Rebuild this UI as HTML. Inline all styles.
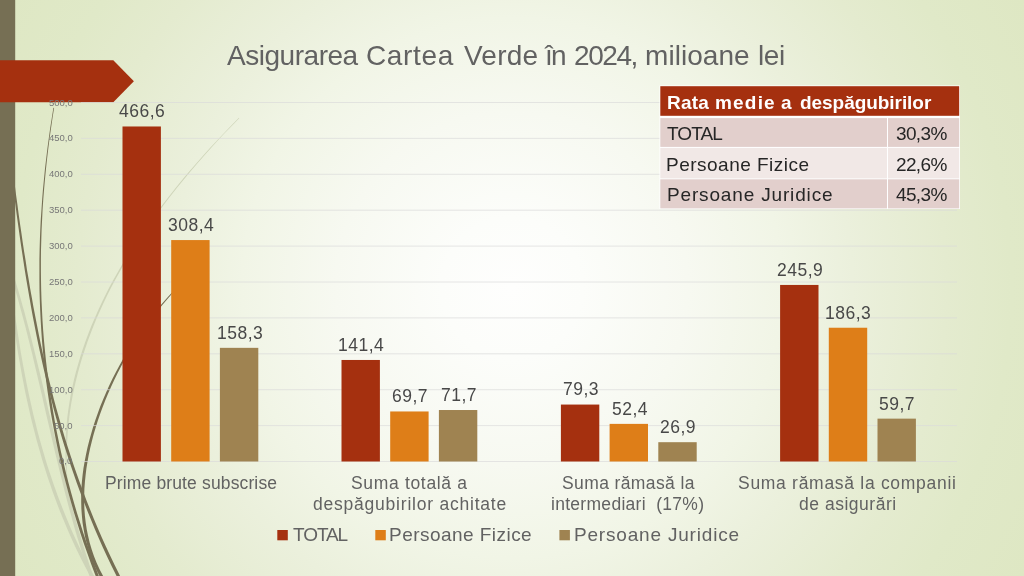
<!DOCTYPE html>
<html lang="ro">
<head>
<meta charset="utf-8">
<title>Asigurarea Cartea Verde în 2024</title>
<style>
  html, body { margin: 0; padding: 0; }
  body {
    width: 1024px; height: 576px; overflow: hidden; position: relative;
    font-family: "Liberation Sans", sans-serif;
    background: #dee7c3;
  }
  #bg {
    position: absolute; left: 0; top: 0; width: 1024px; height: 576px;
    background: radial-gradient(circle 587px at 512px 288px, #fefefd 0%, #fcfdfa 12%, #f7f9f1 30%, #f1f5e6 46%, #ebf0dc 58%, #e4ebcf 74%, #e0e9c8 85%, #dee7c3 100%);
  }
  #deco { position: absolute; left: 0; top: 0; width: 1024px; height: 576px; }
  .tx { position: absolute; white-space: nowrap; will-change: transform; }
</style>
</head>
<body>
<div id="bg"></div>
<svg id="deco" viewBox="0 0 1024 576">
  <g fill="#ced4b8">
  <path d="M7.8 265.4 L10.0 272.2 L12.0 279.0 L14.1 285.7 L16.0 292.5 L18.0 299.3 L19.8 306.1 L21.7 312.9 L23.5 319.7 L25.3 326.4 L27.0 333.2 L28.7 340.0 L30.4 346.8 L32.1 353.6 L33.7 360.4 L35.3 367.2 L36.9 373.9 L38.5 380.7 L40.1 387.5 L41.7 394.3 L43.2 401.1 L44.8 407.9 L46.3 414.7 L47.9 421.5 L49.5 428.3 L51.0 435.0 L52.6 441.8 L54.2 448.6 L55.8 455.4 L57.5 462.2 L59.1 469.0 L60.8 475.8 L62.5 482.6 L64.2 489.4 L65.9 496.2 L67.7 503.0 L69.5 509.8 L71.4 516.6 L73.3 523.4 L75.2 530.2 L77.2 537.0 L79.3 543.8 L81.3 550.6 L83.5 557.4 L85.7 564.2 L87.9 571.0 L90.2 577.8 L92.6 584.6 L95.8 583.4 L93.4 576.7 L91.1 569.9 L88.9 563.1 L86.7 556.3 L84.5 549.6 L82.5 542.8 L80.4 536.0 L78.4 529.2 L76.5 522.5 L74.6 515.7 L72.7 508.9 L70.9 502.1 L69.1 495.4 L67.4 488.6 L65.6 481.8 L63.9 475.0 L62.3 468.2 L60.6 461.4 L59.0 454.7 L57.4 447.9 L55.8 441.1 L54.2 434.3 L52.6 427.5 L51.0 420.7 L49.4 414.0 L47.8 407.2 L46.3 400.4 L44.7 393.6 L43.1 386.8 L41.5 380.0 L39.9 373.2 L38.2 366.5 L36.6 359.7 L34.9 352.9 L33.2 346.1 L31.5 339.3 L29.8 332.5 L28.0 325.7 L26.2 318.9 L24.4 312.1 L22.5 305.4 L20.6 298.6 L18.6 291.8 L16.6 285.0 L14.6 278.2 L12.5 271.4 L10.3 264.6Z"/>
  <path d="M9.1 290.2 L9.9 296.4 L10.7 302.7 L11.5 308.9 L12.4 315.2 L13.2 321.5 L14.1 327.7 L15.1 334.0 L16.0 340.3 L17.0 346.5 L18.0 352.8 L19.1 359.1 L20.2 365.3 L21.3 371.6 L22.5 377.9 L23.7 384.1 L24.9 390.4 L26.2 396.7 L27.6 402.9 L29.0 409.2 L30.4 415.5 L31.9 421.7 L33.5 428.0 L35.1 434.3 L36.7 440.5 L38.5 446.8 L40.3 453.1 L42.1 459.4 L44.0 465.6 L46.0 471.9 L48.0 478.2 L50.2 484.5 L52.3 490.7 L54.6 497.0 L56.9 503.3 L59.3 509.6 L61.8 515.8 L64.4 522.1 L67.1 528.4 L69.8 534.7 L72.6 540.9 L75.5 547.2 L78.5 553.5 L81.6 559.8 L84.8 566.0 L88.1 572.3 L91.4 578.6 L94.9 584.9 L98.0 583.1 L94.6 576.9 L91.2 570.7 L87.9 564.4 L84.8 558.2 L81.7 552.0 L78.7 545.7 L75.8 539.5 L72.9 533.3 L70.2 527.0 L67.6 520.8 L65.0 514.6 L62.5 508.3 L60.1 502.1 L57.7 495.8 L55.5 489.6 L53.3 483.4 L51.2 477.1 L49.1 470.9 L47.1 464.7 L45.2 458.4 L43.4 452.2 L41.6 445.9 L39.8 439.7 L38.1 433.5 L36.5 427.2 L35.0 421.0 L33.4 414.8 L32.0 408.5 L30.6 402.3 L29.2 396.0 L27.9 389.8 L26.6 383.5 L25.4 377.3 L24.2 371.1 L23.0 364.8 L21.9 358.6 L20.8 352.3 L19.8 346.1 L18.8 339.8 L17.8 333.6 L16.9 327.3 L15.9 321.1 L15.0 314.8 L14.2 308.6 L13.3 302.3 L12.5 296.1 L11.7 289.8Z"/>
  <path d="M238.9 117.8 L231.3 125.5 L223.9 133.2 L216.6 140.9 L209.5 148.6 L202.6 156.3 L195.8 163.9 L189.2 171.6 L182.7 179.3 L176.4 187.0 L170.3 194.7 L164.3 202.4 L158.5 210.1 L152.8 217.8 L147.3 225.5 L142.0 233.2 L136.9 240.9 L131.9 248.6 L127.1 256.3 L122.4 264.0 L118.0 271.7 L113.6 279.4 L109.5 287.1 L105.6 294.8 L101.8 302.5 L98.2 310.2 L94.8 317.9 L91.5 325.6 L88.5 333.3 L85.6 341.0 L82.9 348.7 L80.4 356.4 L78.1 364.2 L75.9 371.9 L74.0 379.6 L72.3 387.4 L70.7 395.1 L69.4 402.8 L68.2 410.5 L67.2 418.3 L66.5 426.0 L65.9 433.7 L65.5 441.5 L65.4 449.2 L65.5 456.9 L65.8 464.6 L66.3 472.3 L67.0 480.0 L67.4 480.0 L67.0 472.3 L66.7 464.6 L66.7 456.9 L66.9 449.2 L67.2 441.5 L67.7 433.8 L68.3 426.2 L69.1 418.5 L70.1 410.8 L71.3 403.1 L72.7 395.5 L74.3 387.8 L76.1 380.1 L78.0 372.4 L80.1 364.8 L82.4 357.1 L84.9 349.4 L87.5 341.7 L90.4 334.0 L93.4 326.3 L96.5 318.6 L99.9 310.9 L103.4 303.2 L107.1 295.5 L111.0 287.8 L115.1 280.1 L119.3 272.4 L123.7 264.7 L128.3 257.0 L133.1 249.3 L138.0 241.6 L143.1 233.9 L148.3 226.2 L153.8 218.5 L159.4 210.8 L165.1 203.0 L171.1 195.3 L177.2 187.6 L183.4 179.9 L189.8 172.2 L196.4 164.5 L203.2 156.8 L210.1 149.0 L217.1 141.3 L224.3 133.6 L231.7 125.9 L239.2 118.2Z"/>
  </g><g fill="#766f54">
  <path d="M53.4 107.8 L51.8 118.0 L50.2 128.1 L48.8 138.2 L47.4 148.4 L46.2 158.5 L45.0 168.6 L44.0 178.8 L43.0 188.9 L42.2 199.0 L41.5 209.2 L40.8 219.3 L40.3 229.4 L39.9 239.6 L39.6 249.7 L39.4 259.8 L39.4 270.0 L39.4 280.1 L39.5 290.3 L39.8 300.4 L40.2 310.5 L40.7 320.7 L41.3 330.8 L42.0 341.0 L42.9 351.1 L43.9 361.3 L45.0 371.4 L46.2 381.6 L47.6 391.7 L49.1 401.8 L50.7 412.0 L52.5 422.1 L54.4 432.3 L56.4 442.4 L58.5 452.6 L60.8 462.7 L63.2 472.9 L65.8 483.0 L68.5 493.2 L71.3 503.3 L74.3 513.5 L77.4 523.6 L80.6 533.8 L84.0 543.9 L87.6 554.1 L91.2 564.3 L95.1 574.4 L99.0 584.5 L101.8 583.5 L97.8 573.3 L94.0 563.2 L90.3 553.1 L86.7 543.0 L83.3 532.9 L80.1 522.8 L76.9 512.7 L73.9 502.6 L71.1 492.5 L68.4 482.4 L65.8 472.3 L63.4 462.1 L61.0 452.0 L58.9 441.9 L56.8 431.8 L54.9 421.7 L53.1 411.6 L51.5 401.5 L49.9 391.4 L48.5 381.3 L47.2 371.1 L46.0 361.0 L45.0 350.9 L44.0 340.8 L43.2 330.7 L42.5 320.6 L42.0 310.5 L41.5 300.3 L41.2 290.2 L41.0 280.1 L40.9 270.0 L40.9 259.9 L41.0 249.7 L41.3 239.6 L41.6 229.5 L42.1 219.4 L42.6 209.2 L43.3 199.1 L44.1 189.0 L45.0 178.9 L46.0 168.7 L47.1 158.6 L48.3 148.5 L49.6 138.3 L51.0 128.2 L52.5 118.1 L54.1 108.0Z"/>
  <path d="M8.4 150.1 L9.6 159.3 L10.7 168.6 L11.9 177.8 L13.1 187.1 L14.3 196.3 L15.5 205.5 L16.7 214.8 L18.0 224.0 L19.3 233.3 L20.6 242.5 L22.0 251.7 L23.4 261.0 L24.8 270.2 L26.3 279.5 L27.9 288.7 L29.5 297.9 L31.1 307.2 L32.8 316.4 L34.6 325.7 L36.4 334.9 L38.3 344.2 L40.3 353.4 L42.3 362.7 L44.4 371.9 L46.6 381.2 L48.9 390.4 L51.3 399.7 L53.7 408.9 L56.2 418.2 L58.9 427.4 L61.6 436.7 L64.4 445.9 L67.4 455.2 L70.4 464.4 L73.6 473.7 L76.8 482.9 L80.2 492.2 L83.7 501.4 L87.3 510.7 L91.1 519.9 L94.9 529.2 L98.9 538.4 L103.0 547.7 L107.3 557.0 L111.7 566.2 L116.3 575.5 L120.9 584.7 L123.8 583.3 L119.1 574.1 L114.5 564.8 L110.1 555.6 L105.9 546.4 L101.7 537.2 L97.7 528.0 L93.8 518.8 L90.1 509.6 L86.5 500.4 L83.0 491.1 L79.6 481.9 L76.3 472.7 L73.1 463.5 L70.1 454.3 L67.1 445.1 L64.3 435.9 L61.5 426.6 L58.9 417.4 L56.3 408.2 L53.8 399.0 L51.5 389.8 L49.2 380.5 L46.9 371.3 L44.8 362.1 L42.7 352.9 L40.7 343.7 L38.8 334.4 L37.0 325.2 L35.2 316.0 L33.4 306.8 L31.8 297.5 L30.1 288.3 L28.6 279.1 L27.0 269.9 L25.6 260.6 L24.1 251.4 L22.7 242.2 L21.4 233.0 L20.0 223.7 L18.7 214.5 L17.5 205.3 L16.2 196.0 L15.0 186.8 L13.8 177.6 L12.6 168.4 L11.4 159.1 L10.2 149.9Z"/>
  <path d="M201.3 263.8 L193.8 270.6 L186.7 277.4 L179.9 284.1 L173.4 290.9 L167.2 297.7 L161.3 304.5 L155.7 311.3 L150.4 318.1 L145.3 324.9 L140.4 331.7 L135.7 338.5 L131.3 345.3 L127.1 352.1 L123.1 358.9 L119.3 365.7 L115.7 372.5 L112.2 379.3 L109.0 386.1 L105.9 392.9 L103.0 399.7 L100.2 406.5 L97.7 413.4 L95.3 420.2 L93.1 427.0 L91.1 433.9 L89.2 440.7 L87.5 447.5 L86.0 454.4 L84.7 461.2 L83.5 468.0 L82.6 474.9 L81.9 481.7 L81.4 488.6 L81.2 495.5 L81.2 502.3 L81.4 509.2 L81.9 516.1 L82.6 522.9 L83.7 529.8 L85.0 536.7 L86.7 543.6 L88.7 550.4 L91.1 557.3 L93.8 564.2 L96.9 571.1 L100.5 578.0 L104.4 584.8 L107.2 583.2 L103.3 576.4 L99.8 569.7 L96.7 563.0 L94.0 556.2 L91.7 549.5 L89.7 542.7 L88.1 536.0 L86.7 529.3 L85.7 522.5 L84.9 515.8 L84.4 509.0 L84.2 502.3 L84.2 495.5 L84.4 488.8 L84.9 482.0 L85.6 475.2 L86.4 468.5 L87.5 461.7 L88.7 454.9 L90.2 448.1 L91.8 441.4 L93.6 434.6 L95.6 427.8 L97.7 421.0 L100.0 414.2 L102.5 407.4 L105.2 400.6 L108.0 393.8 L111.0 387.0 L114.1 380.2 L117.4 373.4 L121.0 366.6 L124.7 359.8 L128.6 352.9 L132.7 346.1 L137.0 339.3 L141.5 332.5 L146.3 325.6 L151.3 318.8 L156.6 312.0 L162.1 305.2 L167.9 298.4 L174.0 291.5 L180.5 284.7 L187.2 277.9 L194.3 271.1 L201.7 264.2Z"/>
  </g>
  <rect x="0" y="0" width="15.2" height="576" fill="#766f54"/>
  <path d="M0 60.2 H113.3 L133.9 81.25 L113.3 102.3 H0 Z" fill="#a5300f"/>
  <g stroke="#d9d9d9" stroke-width="0.9" stroke-opacity="0.75">
  <line x1="81" x2="957" y1="461.50" y2="461.50"/>
  <line x1="81" x2="957" y1="425.60" y2="425.60"/>
  <line x1="81" x2="957" y1="389.70" y2="389.70"/>
  <line x1="81" x2="957" y1="353.80" y2="353.80"/>
  <line x1="81" x2="957" y1="317.90" y2="317.90"/>
  <line x1="81" x2="957" y1="282.00" y2="282.00"/>
  <line x1="81" x2="957" y1="246.10" y2="246.10"/>
  <line x1="81" x2="957" y1="210.20" y2="210.20"/>
  <line x1="81" x2="957" y1="174.30" y2="174.30"/>
  <line x1="81" x2="957" y1="138.40" y2="138.40"/>
  <line x1="81" x2="957" y1="102.50" y2="102.50"/>
  </g>
  <rect x="122.50" y="126.48" width="38.40" height="335.02" fill="#a5300f"/>
  <rect x="171.20" y="240.07" width="38.40" height="221.43" fill="#de7e18"/>
  <rect x="219.90" y="347.84" width="38.40" height="113.66" fill="#9f8351"/>
  <rect x="341.50" y="359.97" width="38.40" height="101.53" fill="#a5300f"/>
  <rect x="390.20" y="411.46" width="38.40" height="50.04" fill="#de7e18"/>
  <rect x="438.90" y="410.02" width="38.40" height="51.48" fill="#9f8351"/>
  <rect x="560.90" y="404.56" width="38.40" height="56.94" fill="#a5300f"/>
  <rect x="609.60" y="423.88" width="38.40" height="37.62" fill="#de7e18"/>
  <rect x="658.30" y="442.19" width="38.40" height="19.31" fill="#9f8351"/>
  <rect x="780.10" y="284.94" width="38.40" height="176.56" fill="#a5300f"/>
  <rect x="828.80" y="327.74" width="38.40" height="133.76" fill="#de7e18"/>
  <rect x="877.50" y="418.64" width="38.40" height="42.86" fill="#9f8351"/>
  <rect x="277.3" y="530" width="10.5" height="10.3" fill="#a5300f"/>
  <rect x="375.3" y="530" width="10.5" height="10.3" fill="#de7e18"/>
  <rect x="559.4" y="530" width="10.5" height="10.3" fill="#9f8351"/>
  <rect x="659.5" y="85.5" width="300.5" height="123.5" fill="#fff"/>
  <rect x="660.3" y="86.2" width="298.9" height="29.6" fill="#a5300f"/>
  <rect x="660.3" y="118.1" width="226.7" height="28.8" fill="#e2cfcc"/>
  <rect x="888" y="118.1" width="71.2" height="28.8" fill="#e2cfcc"/>
  <rect x="660.3" y="147.9" width="226.7" height="30.5" fill="#f1e8e6"/>
  <rect x="888" y="147.9" width="71.2" height="30.5" fill="#f1e8e6"/>
  <rect x="660.3" y="179.3" width="226.7" height="29.1" fill="#e2cfcc"/>
  <rect x="888" y="179.3" width="71.2" height="29.1" fill="#e2cfcc"/>
</svg>
<div class="tx" id="title0" style="left:227.03px;top:42.01px;font-size:28px;line-height:28px;color:#626262;letter-spacing:-0.470px;">Asigurarea</div>
<div class="tx" id="title1" style="left:365.74px;top:42.01px;font-size:28px;line-height:28px;color:#626262;letter-spacing:0.646px;">Cartea</div>
<div class="tx" id="title2" style="left:463.97px;top:42.01px;font-size:28px;line-height:28px;color:#626262;letter-spacing:0.225px;">Verde</div>
<div class="tx" id="title3" style="left:544.97px;top:42.01px;font-size:28px;line-height:28px;color:#626262;letter-spacing:-1.779px;">în</div>
<div class="tx" id="title4" style="left:573.91px;top:42.01px;font-size:28px;line-height:28px;color:#626262;letter-spacing:-1.447px;">2024,</div>
<div class="tx" id="title5" style="left:645.30px;top:42.01px;font-size:28px;line-height:28px;color:#626262;letter-spacing:0.057px;">milioane</div>
<div class="tx" id="title6" style="left:758.17px;top:42.01px;font-size:28px;line-height:28px;color:#626262;letter-spacing:-0.446px;">lei</div>
<div class="tx" id="lg1" style="left:293.01px;top:525.00px;font-size:19px;line-height:19px;color:#626262;letter-spacing:-1.078px;">TOTAL</div>
<div class="tx" id="lg2" style="left:389.45px;top:525.00px;font-size:19px;line-height:19px;color:#626262;letter-spacing:0.460px;">Persoane Fizice</div>
<div class="tx" id="lg3" style="left:573.91px;top:525.00px;font-size:19px;line-height:19px;color:#626262;letter-spacing:0.811px;">Persoane Juridice</div>
<div class="tx" id="th0" style="left:666.79px;top:93.01px;font-size:19px;line-height:19px;color:#fff;letter-spacing:0.228px;font-weight:bold;">Rata</div>
<div class="tx" id="th1" style="left:715.46px;top:93.01px;font-size:19px;line-height:19px;color:#fff;letter-spacing:1.189px;font-weight:bold;">medie</div>
<div class="tx" id="th2" style="left:780.58px;top:93.01px;font-size:19px;line-height:19px;color:#fff;letter-spacing:0.000px;font-weight:bold;">a</div>
<div class="tx" id="th3" style="left:799.69px;top:93.01px;font-size:19px;line-height:19px;color:#fff;letter-spacing:-0.051px;font-weight:bold;">despăgubirilor</div>
<div class="tx" id="t1" style="left:667.32px;top:124.01px;font-size:19px;line-height:19px;color:#262626;letter-spacing:-0.903px;">TOTAL</div>
<div class="tx" id="t2" style="left:665.71px;top:155.00px;font-size:19px;line-height:19px;color:#262626;letter-spacing:0.488px;">Persoane Fizice</div>
<div class="tx" id="t3" style="left:666.50px;top:185.01px;font-size:19px;line-height:19px;color:#262626;letter-spacing:0.843px;">Persoane Juridice</div>
<div class="tx" id="n1" style="left:896.01px;top:124.01px;font-size:19px;line-height:19px;color:#262626;letter-spacing:-0.645px;">30,3%</div>
<div class="tx" id="n2" style="left:896.04px;top:155.00px;font-size:19px;line-height:19px;color:#262626;letter-spacing:-0.645px;">22,6%</div>
<div class="tx" id="n3" style="left:895.85px;top:185.01px;font-size:19px;line-height:19px;color:#262626;letter-spacing:-0.645px;">45,3%</div>
<div class="tx" id="c1a" style="left:104.59px;top:475.01px;font-size:17.5px;line-height:17.5px;color:#626262;letter-spacing:0.140px;">Prime brute subscrise</div>
<div class="tx" id="c2a" style="left:351.15px;top:475.01px;font-size:17.5px;line-height:17.5px;color:#626262;letter-spacing:0.671px;">Suma totală a</div>
<div class="tx" id="c2b" style="left:312.81px;top:496.01px;font-size:17.5px;line-height:17.5px;color:#626262;letter-spacing:0.779px;">despăgubirilor achitate</div>
<div class="tx" id="c3a" style="left:561.77px;top:475.01px;font-size:17.5px;line-height:17.5px;color:#626262;letter-spacing:0.386px;">Suma rămasă la</div>
<div class="tx" id="c3b" style="left:551.26px;top:496.01px;font-size:17.5px;line-height:17.5px;color:#626262;letter-spacing:0.289px;">intermediari&nbsp; (17%)</div>
<div class="tx" id="c4a" style="left:738.40px;top:475.01px;font-size:17.5px;line-height:17.5px;color:#626262;letter-spacing:0.708px;">Suma rămasă la companii</div>
<div class="tx" id="c4b" style="left:799.37px;top:496.01px;font-size:17.5px;line-height:17.5px;color:#626262;letter-spacing:0.523px;">de asigurări</div>
<div class="tx" id="d00" style="left:119.32px;top:103.01px;font-size:17.5px;line-height:17.5px;color:#484848;letter-spacing:0.500px;">466,6</div>
<div class="tx" id="d01" style="left:167.77px;top:217.00px;font-size:17.5px;line-height:17.5px;color:#484848;letter-spacing:0.500px;">308,4</div>
<div class="tx" id="d02" style="left:216.54px;top:325.01px;font-size:17.5px;line-height:17.5px;color:#484848;letter-spacing:0.500px;">158,3</div>
<div class="tx" id="d10" style="left:338.46px;top:337.01px;font-size:17.5px;line-height:17.5px;color:#484848;letter-spacing:0.500px;">141,4</div>
<div class="tx" id="d11" style="left:391.82px;top:388.01px;font-size:17.5px;line-height:17.5px;color:#484848;letter-spacing:0.500px;">69,7</div>
<div class="tx" id="d12" style="left:440.62px;top:387.00px;font-size:17.5px;line-height:17.5px;color:#484848;letter-spacing:0.500px;">71,7</div>
<div class="tx" id="d20" style="left:562.53px;top:381.01px;font-size:17.5px;line-height:17.5px;color:#484848;letter-spacing:0.500px;">79,3</div>
<div class="tx" id="d21" style="left:611.88px;top:401.01px;font-size:17.5px;line-height:17.5px;color:#484848;letter-spacing:0.500px;">52,4</div>
<div class="tx" id="d22" style="left:660.22px;top:419.00px;font-size:17.5px;line-height:17.5px;color:#484848;letter-spacing:0.500px;">26,9</div>
<div class="tx" id="d30" style="left:776.94px;top:262.01px;font-size:17.5px;line-height:17.5px;color:#484848;letter-spacing:0.500px;">245,9</div>
<div class="tx" id="d31" style="left:825.14px;top:305.01px;font-size:17.5px;line-height:17.5px;color:#484848;letter-spacing:0.500px;">186,3</div>
<div class="tx" id="d32" style="left:879.02px;top:396.00px;font-size:17.5px;line-height:17.5px;color:#484848;letter-spacing:0.500px;">59,7</div>
<div class="tx" id="a0" style="left:58.90px;top:456.01px;font-size:9.5px;line-height:9.5px;color:#777;letter-spacing:0.000px;">0,0</div>
<div class="tx" id="a1" style="left:53.68px;top:421.01px;font-size:9.5px;line-height:9.5px;color:#777;letter-spacing:0.000px;">50,0</div>
<div class="tx" id="a2" style="left:48.78px;top:385.00px;font-size:9.5px;line-height:9.5px;color:#777;letter-spacing:0.000px;">100,0</div>
<div class="tx" id="a3" style="left:48.78px;top:349.01px;font-size:9.5px;line-height:9.5px;color:#777;letter-spacing:0.000px;">150,0</div>
<div class="tx" id="a4" style="left:48.78px;top:313.00px;font-size:9.5px;line-height:9.5px;color:#777;letter-spacing:0.000px;">200,0</div>
<div class="tx" id="a5" style="left:48.78px;top:277.01px;font-size:9.5px;line-height:9.5px;color:#777;letter-spacing:0.000px;">250,0</div>
<div class="tx" id="a6" style="left:48.78px;top:241.01px;font-size:9.5px;line-height:9.5px;color:#777;letter-spacing:0.000px;">300,0</div>
<div class="tx" id="a7" style="left:48.78px;top:205.00px;font-size:9.5px;line-height:9.5px;color:#777;letter-spacing:0.000px;">350,0</div>
<div class="tx" id="a8" style="left:48.78px;top:169.01px;font-size:9.5px;line-height:9.5px;color:#777;letter-spacing:0.000px;">400,0</div>
<div class="tx" id="a9" style="left:48.78px;top:133.00px;font-size:9.5px;line-height:9.5px;color:#777;letter-spacing:0.000px;">450,0</div>
<div class="tx" id="a10" style="left:48.78px;top:98.01px;font-size:9.5px;line-height:9.5px;color:#777;letter-spacing:0.000px;">500,0</div>
</body>
</html>
